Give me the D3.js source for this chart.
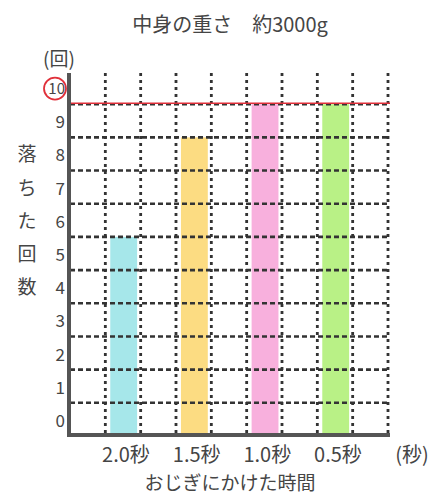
<!DOCTYPE html>
<html><head><meta charset="utf-8">
<script src="https://cdn.jsdelivr.net/npm/d3@7"></script>
<style>body{margin:0;background:#fff}svg{display:block}</style>
</head><body>
<svg id="c" width="442" height="495"></svg>
<script>
const categories = ["2.0秒", "1.5秒", "1.0秒", "0.5秒"];
const values = [6, 9, 10, 10];
const colors = ["#a6e7ea", "#fcdc82", "#f8b0dd", "#b9f186"];
const yTickLabels = [0,1,2,3,4,5,6,7,8,9,10];
const columns = ["c0","2.0秒","c2","1.5秒","c4","1.0秒","c6","0.5秒","c8"];
const title = "中身の重さ　約3000g";
const yUnit = "(回)";
const xUnit = "(秒)";
const xTitle = "おじぎにかけた時間";
const yTitle = ["落","ち","た","回","数"];
const targetValue = 10;

const svg = d3.select("#c");
const pLeft = 70, pRight = 388, pTop = 71, pBottom = 436;
const x = d3.scaleBand().domain(columns).range([pLeft, pRight]).paddingInner(0).paddingOuter(0);
const y = d3.scaleLinear().domain([0, 11]).range([pBottom, pTop]);
const font = "'Noto Sans CJK JP', 'Noto Sans', sans-serif";
const txt = "#454545";

// bars
svg.selectAll("rect.bar").data(categories).enter().append("rect")
  .attr("x", d => x(d) + x.bandwidth()*0.14)
  .attr("width", x.bandwidth()*0.76)
  .attr("y", (d,i) => y(values[i]))
  .attr("height", (d,i) => y(0) - y(values[i]) - 2)
  .attr("fill", (d,i) => colors[i]);

// horizontal dashed grid
const hg = d3.range(1, 11);
svg.selectAll("line.hg").data(hg).enter().append("line")
  .attr("x1", pLeft).attr("x2", pRight)
  .attr("y1", d => y(d)).attr("y2", d => y(d))
  .attr("stroke", "#333").attr("stroke-width", 2.6)
  .attr("stroke-dasharray", "5,3");

// vertical dotted grid
const vg = columns.map(c => x(c) + x.bandwidth());
svg.selectAll("line.vg").data(vg).enter().append("line")
  .attr("x1", d => d).attr("x2", d => d)
  .attr("y1", pTop + 2).attr("y2", pBottom)
  .attr("stroke", "#333").attr("stroke-width", 2.8)
  .attr("stroke-dasharray", "3,4");

// red target line
svg.append("line").attr("x1", pLeft).attr("x2", pRight + 2)
  .attr("y1", y(targetValue) - 1).attr("y2", y(targetValue) - 1)
  .attr("stroke", "#e0303a").attr("stroke-width", 1.6);

// axes
svg.append("line").attr("x1", pLeft - 1).attr("x2", pLeft - 1)
  .attr("y1", pTop + 2).attr("y2", pBottom + 1)
  .attr("stroke", "#555").attr("stroke-width", 4);
svg.append("line").attr("x1", pLeft - 3).attr("x2", pRight + 2)
  .attr("y1", pBottom - 1).attr("y2", pBottom - 1)
  .attr("stroke", "#555").attr("stroke-width", 4);

// y tick labels (centered in cells)
svg.selectAll("text.yt").data(yTickLabels).enter().append("text")
  .attr("x", 65).attr("y", d => y(d + 0.5))
  .attr("text-anchor", "end").attr("dominant-baseline", "central")
  .attr("font-family", font).attr("font-size", d => d === 10 ? 15 : 17).attr("fill", txt)
  .text(d => d);

// red circle around 10
svg.append("circle").attr("cx", 55).attr("cy", y(10.5) + 1).attr("r", 11)
  .attr("fill", "none").attr("stroke", "#e0303a").attr("stroke-width", 1.8);

// x labels
svg.selectAll("text.xt").data(categories).enter().append("text")
  .attr("x", d => x(d) + x.bandwidth()/2 + 3).attr("y", 453)
  .attr("text-anchor", "middle").attr("dominant-baseline", "central")
  .attr("font-family", font).attr("font-size", 20).attr("fill", txt)
  .text(d => d);
svg.append("text").attr("x", 412).attr("y", 453)
  .attr("text-anchor", "middle").attr("dominant-baseline", "central")
  .attr("font-family", font).attr("font-size", 20).attr("fill", txt).text(xUnit);

svg.append("text").attr("x", 230).attr("y", 481)
  .attr("text-anchor", "middle").attr("dominant-baseline", "central")
  .attr("font-family", font).attr("font-size", 19).attr("fill", txt).text(xTitle);

// title
svg.append("text").attr("x", 230).attr("y", 23)
  .attr("text-anchor", "middle").attr("dominant-baseline", "central")
  .attr("font-family", font).attr("font-size", 20).attr("fill", txt).text(title);

// y unit
svg.append("text").attr("x", 59).attr("y", 57)
  .attr("text-anchor", "middle").attr("dominant-baseline", "central")
  .attr("font-family", font).attr("font-size", 19).attr("fill", txt).text(yUnit);

// y title vertical
svg.selectAll("text.ytt").data(yTitle).enter().append("text")
  .attr("x", 27).attr("y", (d,i) => y(8.5 - i) - 1)
  .attr("text-anchor", "middle").attr("dominant-baseline", "central")
  .attr("font-family", font).attr("font-size", 19).attr("fill", txt)
  .text(d => d);
</script>
</body></html>
